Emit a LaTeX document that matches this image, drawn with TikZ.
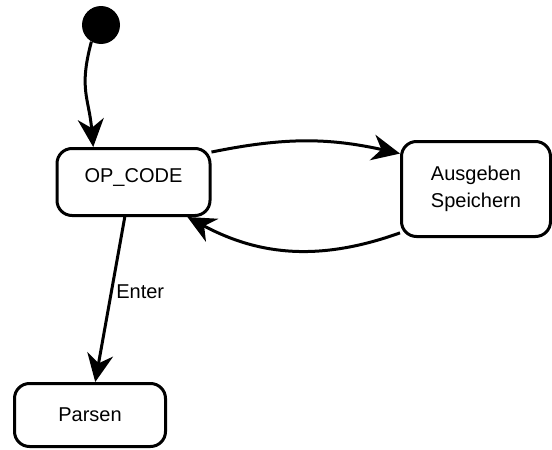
\documentclass[tikz,border=0pt]{standalone}
\usepackage{fontspec}
\setmainfont{Liberation Sans}
\usetikzlibrary{arrows.meta}

\begin{document}
\begin{tikzpicture}[x=1pt,y=-1pt,font=\fontsize{20}{27}\selectfont,
    state/.style={draw,line width=3pt,rounded corners=15pt,align=center},
    start/.style={circle,fill=black,minimum size=38pt,inner sep=0pt},
    trans/.style={line width=3pt,-{Stealth[length=28pt,width=26pt,inset=9pt]}}]
  \useasboundingbox (0,0) rectangle (552,450);
  \draw
    (101,25) node[start] (init){}
    (133.5,182) node[state,minimum width=153pt,minimum height=67pt,
      text height=15pt,text depth=15pt] (opcode){OP\_CODE}
    (476,189) node[state,minimum width=149pt,minimum height=95pt] (store){Ausgeben\\Speichern}
    (90,415) node[state,minimum width=151pt,minimum height=63pt] (parse){Parsen};
  \begin{scope}[trans]
    \draw (init.240) to[out=255,in=95,looseness=1.2] (opcode.139);
    \draw (opcode.21) to[bend left=12] (store.155);
    \draw (store.210) to[bend left=24] (opcode.327);
    \draw (opcode.256) -- node[pos=.45,right]{Enter} (parse.81);
  \end{scope}
\end{tikzpicture}
\end{document}
